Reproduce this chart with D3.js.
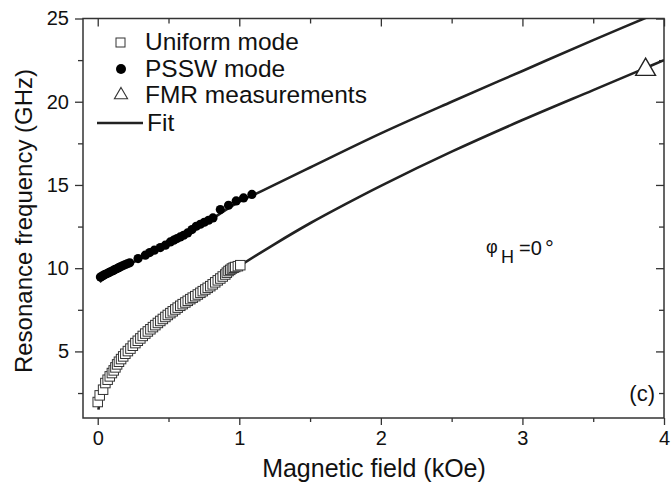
<!DOCTYPE html>
<html>
<head>
<meta charset="utf-8">
<script src="https://cdn.jsdelivr.net/npm/d3@7"></script>
<style>
  body { margin: 0; background: #fff; }
  svg { display: block; }
  text { font-family: "Liberation Sans", Arial, Helvetica, sans-serif; fill: #111; }
</style>
</head>
<body>
<svg id="chart" width="671" height="485"></svg>
<script>
// uniform mode (open squares): field kOe, frequency GHz
const uniformH = [0.0, 0.014, 0.038, 0.054, 0.07, 0.085, 0.1, 0.113, 0.125, 0.137, 0.15, 0.165, 0.18, 0.195, 0.213, 0.231, 0.248, 0.266, 0.283, 0.301, 0.318, 0.336, 0.354, 0.372, 0.39, 0.407, 0.425, 0.442, 0.46, 0.478, 0.495, 0.513, 0.53, 0.548, 0.565, 0.583, 0.6, 0.619, 0.636, 0.654, 0.671, 0.689, 0.707, 0.725, 0.742, 0.76, 0.777, 0.795, 0.812, 0.83, 0.848, 0.866, 0.883, 0.901, 0.912, 0.924, 0.936, 0.948, 0.96, 0.971, 0.99, 1.007];
const uniformF = [1.96, 2.36, 2.7, 3.1, 3.3, 3.5, 3.7, 3.86, 4.04, 4.22, 4.38, 4.54, 4.7, 4.86, 5.02, 5.17, 5.34, 5.5, 5.64, 5.78, 5.93, 6.07, 6.2, 6.33, 6.46, 6.58, 6.71, 6.83, 6.95, 7.07, 7.19, 7.3, 7.41, 7.52, 7.63, 7.74, 7.84, 7.94, 8.04, 8.14, 8.23, 8.32, 8.42, 8.52, 8.62, 8.72, 8.82, 8.92, 9.03, 9.15, 9.27, 9.38, 9.5, 9.62, 9.73, 9.83, 9.9, 9.98, 10.03, 10.07, 10.12, 10.18];

// PSSW mode (filled circles)
const psswH = [0.019, 0.03, 0.042, 0.054, 0.066, 0.078, 0.09, 0.102, 0.113, 0.125, 0.137, 0.148, 0.16, 0.175, 0.191, 0.208, 0.226, 0.285, 0.336, 0.367, 0.4, 0.442, 0.478, 0.513, 0.537, 0.56, 0.583, 0.607, 0.635, 0.666, 0.696, 0.725, 0.753, 0.783, 0.814, 0.866, 0.924, 0.978, 1.03, 1.089];
const psswF = [9.47, 9.52, 9.58, 9.63, 9.68, 9.73, 9.78, 9.83, 9.88, 9.93, 9.98, 10.03, 10.08, 10.14, 10.2, 10.26, 10.32, 10.58, 10.78, 10.94, 11.08, 11.24, 11.38, 11.58, 11.68, 11.78, 11.88, 11.98, 12.12, 12.32, 12.52, 12.64, 12.76, 12.88, 13.02, 13.52, 13.78, 14.04, 14.22, 14.43];

// FMR measurement (open triangle)
const fmrH = [3.87];
const fmrF = [22.05];

// fit curves
const fitUpperH = [0.014, 0.1, 0.25, 0.5, 0.75, 1.0, 1.15, 1.5, 2.0, 2.5, 3.0, 3.5, 4.0];
const fitUpperF = [9.17, 9.75, 10.35, 11.45, 12.65, 14.0, 14.6, 16.05, 18.1, 20.0, 21.85, 23.7, 25.5];
const fitLowerH = [0.005, 0.02, 0.05, 0.1, 0.2, 0.3, 0.4, 0.5, 0.6, 0.7, 0.8, 0.9, 1.0, 1.25, 1.5, 1.75, 2.0, 2.5, 3.0, 3.5, 3.876, 4.0];
const fitLowerF = [1.5, 2.2, 2.95, 3.7, 4.85, 5.75, 6.5, 7.2, 7.8, 8.38, 8.93, 9.55, 10.12, 11.45, 12.7, 13.85, 14.95, 17.0, 18.9, 20.7, 22.05, 22.5];

const xTicks = [0, 1, 2, 3, 4];
const xMinor = [0.5, 1.5, 2.5, 3.5];
const yTicks = [5, 10, 15, 20, 25];
const yMinor = [2.5, 7.5, 12.5, 17.5, 22.5];

const legendLabels = ['Uniform mode', 'PSSW mode', 'FMR measurements', 'Fit'];

const svg = d3.select('#chart');
const margin = {left: 83, right: 7, top: 18.5, bottom: 67};
const width = 671 - margin.left - margin.right;
const height = 485 - margin.top - margin.bottom;

const x = d3.scaleLinear().domain([-0.104, 4.0]).range([0, width]);
const y = d3.scaleLinear().domain([1.0, 25]).range([height, 0]);

const g = svg.append('g').attr('transform', `translate(${margin.left},${margin.top})`);

svg.append('defs').append('clipPath').attr('id', 'clip')
  .append('rect').attr('width', width).attr('height', height);

const ink = '#222';

// axes: major + minor on all four sides
const styleAxis = sel => {
  sel.select('.domain').remove();
  sel.selectAll('line').attr('stroke', '#333').attr('stroke-width', 1.3);
  sel.selectAll('text').attr('font-size', 20).attr('fill', '#111');
};

g.append('g').attr('transform', `translate(0,${height})`)
  .call(d3.axisBottom(x).tickValues(xTicks).tickSize(7).tickPadding(6).tickFormat(d3.format('d')))
  .call(styleAxis);
g.append('g').attr('transform', `translate(0,${height})`)
  .call(d3.axisBottom(x).tickValues(xMinor).tickSize(4).tickFormat(''))
  .call(styleAxis);
g.append('g')
  .call(d3.axisBottom(x).tickValues(xTicks).tickSize(8).tickFormat(''))
  .call(styleAxis);
g.append('g')
  .call(d3.axisBottom(x).tickValues(xMinor).tickSize(5).tickFormat(''))
  .call(styleAxis);

g.append('g')
  .call(d3.axisLeft(y).tickValues(yTicks).tickSize(8).tickPadding(6).tickFormat(d3.format('d')))
  .call(styleAxis);
g.append('g')
  .call(d3.axisLeft(y).tickValues(yMinor).tickSize(5).tickFormat(''))
  .call(styleAxis);
g.append('g').attr('transform', `translate(${width},0)`)
  .call(d3.axisLeft(y).tickValues(yTicks).tickSize(8).tickFormat(''))
  .call(styleAxis);
g.append('g').attr('transform', `translate(${width},0)`)
  .call(d3.axisLeft(y).tickValues(yMinor).tickSize(5).tickFormat(''))
  .call(styleAxis);

g.append('rect')
  .attr('width', width).attr('height', height)
  .attr('fill', 'none').attr('stroke', '#333').attr('stroke-width', 1.5);

// fit lines
const line = d3.line().x(d => x(d[0])).y(d => y(d[1])).curve(d3.curveCatmullRom);
const lines = g.append('g').attr('clip-path', 'url(#clip)');
[[fitUpperH, fitUpperF], [fitLowerH, fitLowerF]].forEach(([hs, fs]) => {
  lines.append('path')
    .datum(hs.map((h, i) => [h, fs[i]]))
    .attr('d', line)
    .attr('fill', 'none').attr('stroke', ink).attr('stroke-width', 2.6);
});

// data markers
const sq = 9.5;
g.append('g').selectAll('rect')
  .data(uniformH.map((h, i) => [h, uniformF[i]]))
  .join('rect')
    .attr('x', d => x(d[0]) - sq / 2).attr('y', d => y(d[1]) - sq / 2)
    .attr('width', sq).attr('height', sq)
    .attr('fill', '#fff').attr('stroke', '#333').attr('stroke-width', 1);

g.append('g').selectAll('circle')
  .data(psswH.map((h, i) => [h, psswF[i]]))
  .join('circle')
    .attr('cx', d => x(d[0])).attr('cy', d => y(d[1])).attr('r', 4.6)
    .attr('fill', '#000');

const tri = d3.symbol().type(d3.symbolTriangle).size(170);
g.append('g').selectAll('path')
  .data(fmrH.map((h, i) => [h, fmrF[i]]))
  .join('path')
    .attr('d', tri)
    .attr('transform', d => `translate(${x(d[0])},${y(d[1]) + 2})`)
    .attr('fill', '#fff').attr('stroke', ink).attr('stroke-width', 1.4);

// legend
const lg = svg.append('g');
const rowY = [42, 69, 95, 123];
lg.append('rect').attr('x', 116).attr('y', rowY[0] - 4).attr('width', 9).attr('height', 9)
  .attr('fill', '#fff').attr('stroke', '#333').attr('stroke-width', 1);
lg.append('circle').attr('cx', 121).attr('cy', rowY[1]).attr('r', 5).attr('fill', '#000');
lg.append('path').attr('d', d3.symbol().type(d3.symbolTriangle).size(75))
  .attr('transform', `translate(121,${rowY[2]})`)
  .attr('fill', '#fff').attr('stroke', '#333').attr('stroke-width', 1.1);
lg.append('line').attr('x1', 97).attr('x2', 143).attr('y1', rowY[3]).attr('y2', rowY[3])
  .attr('stroke', ink).attr('stroke-width', 2.6);
lg.selectAll('text').data(legendLabels).join('text')
  .attr('x', (d, i) => i === 3 ? 147 : 145)
  .attr('y', (d, i) => rowY[i] + 8)
  .attr('font-size', 24.5)
  .text(d => d);

// axis titles
svg.append('text')
  .attr('x', 374).attr('y', 477)
  .attr('text-anchor', 'middle').attr('font-size', 25)
  .text('Magnetic field (kOe)');
svg.append('text')
  .attr('transform', 'translate(32,221) rotate(-90)')
  .attr('text-anchor', 'middle').attr('font-size', 24)
  .text('Resonance frequency (GHz)');

// annotations
const ann = svg.append('g');
ann.append('text').attr('x', 486).attr('y', 253).attr('font-size', 18).text('φ');
ann.append('text').attr('x', 501).attr('y', 263).attr('font-size', 18).text('H');
ann.append('text').attr('x', 519).attr('y', 255).attr('font-size', 20).text('=0');
ann.append('text').attr('x', 545).attr('y', 256).attr('font-size', 22).text('°');
svg.append('text')
  .attr('x', 655).attr('y', 401).attr('text-anchor', 'end').attr('font-size', 22)
  .text('(c)');
</script>
</body>
</html>
